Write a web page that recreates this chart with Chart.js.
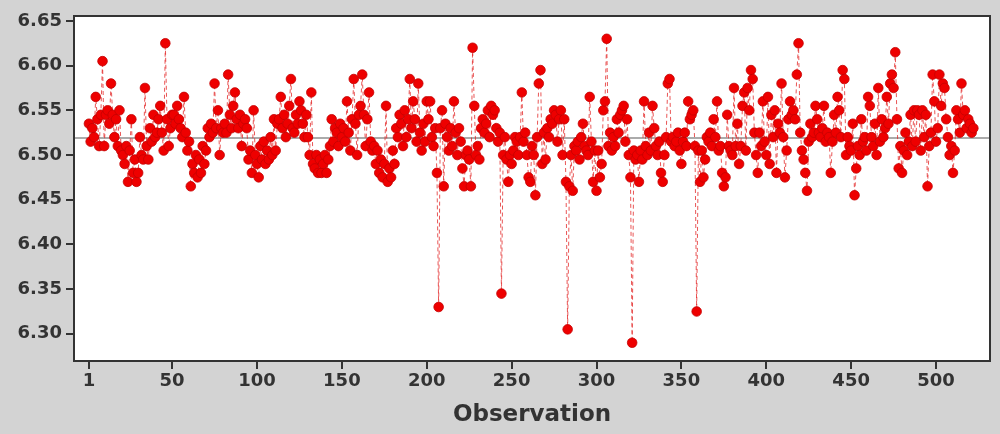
<!DOCTYPE html>
<html>
<head>
<meta charset="utf-8">
<script src="https://cdn.jsdelivr.net/npm/chart.js@4.4.1/dist/chart.umd.min.js"></script>
<style>
  html, body { margin: 0; padding: 0; background: #d3d3d3; }
  #wrap { width: 1000px; height: 434px; position: relative; }
</style>
</head>
<body>
<div id="wrap"><canvas id="c"></canvas></div>
<script>
const values = [
  6.535, 6.515, 6.530, 6.520, 6.565, 6.540, 6.510, 6.545, 6.605, 6.510,
  6.545, 6.550, 6.535, 6.580, 6.545, 6.520, 6.540, 6.510, 6.550, 6.505,
  6.500, 6.490, 6.510, 6.470, 6.505, 6.540, 6.480, 6.495, 6.470, 6.480,
  6.520, 6.500, 6.495, 6.575, 6.510, 6.495, 6.530, 6.515, 6.545, 6.520,
  6.525, 6.540, 6.555, 6.525, 6.505, 6.625, 6.540, 6.510, 6.530, 6.545,
  6.545, 6.535, 6.555, 6.540, 6.530, 6.520, 6.565, 6.525, 6.505, 6.515,
  6.465, 6.490, 6.480, 6.500, 6.475, 6.495, 6.480, 6.510, 6.490, 6.505,
  6.530, 6.520, 6.535, 6.525, 6.580, 6.530, 6.550, 6.500, 6.530, 6.525,
  6.535, 6.525, 6.590, 6.545, 6.530, 6.555, 6.570, 6.540, 6.530, 6.545,
  6.510, 6.535, 6.540, 6.530, 6.495, 6.505, 6.480, 6.550, 6.500, 6.490,
  6.475, 6.510, 6.495, 6.515, 6.490, 6.505, 6.495, 6.520, 6.500, 6.540,
  6.505, 6.535, 6.540, 6.565, 6.530, 6.545, 6.520, 6.535, 6.555, 6.585,
  6.530, 6.525, 6.545, 6.535, 6.560, 6.550, 6.535, 6.520, 6.545, 6.520,
  6.500, 6.570, 6.490, 6.485, 6.500, 6.480, 6.495, 6.480, 6.490, 6.500,
  6.480, 6.495, 6.510, 6.540, 6.515, 6.530, 6.525, 6.510, 6.535, 6.520,
  6.530, 6.515, 6.560, 6.525, 6.505, 6.540, 6.585, 6.535, 6.500, 6.545,
  6.555, 6.590, 6.545, 6.510, 6.540, 6.570, 6.515, 6.505, 6.510, 6.490,
  6.505, 6.480, 6.495, 6.475, 6.490, 6.555, 6.470, 6.485, 6.475, 6.505,
  6.490, 6.530, 6.520, 6.545, 6.535, 6.510, 6.550, 6.520, 6.540, 6.585,
  6.530, 6.560, 6.540, 6.515, 6.580, 6.525, 6.505, 6.535, 6.515, 6.560,
  6.540, 6.560, 6.520, 6.510, 6.530, 6.480, 6.330, 6.530, 6.550, 6.465,
  6.535, 6.520, 6.505, 6.530, 6.510, 6.560, 6.525, 6.500, 6.530, 6.515,
  6.485, 6.465, 6.500, 6.505, 6.495, 6.465, 6.620, 6.555, 6.500, 6.510,
  6.495, 6.530, 6.540, 6.525, 6.535, 6.550, 6.520, 6.555, 6.545, 6.550,
  6.530, 6.515, 6.525, 6.345, 6.500, 6.520, 6.495, 6.470, 6.500, 6.490,
  6.505, 6.520, 6.515, 6.500, 6.520, 6.570, 6.515, 6.525, 6.500, 6.475,
  6.470, 6.510, 6.500, 6.455, 6.520, 6.580, 6.595, 6.490, 6.525, 6.495,
  6.530, 6.520, 6.540, 6.535, 6.550, 6.545, 6.515, 6.540, 6.550, 6.500,
  6.540, 6.470, 6.305, 6.465, 6.500, 6.460, 6.510, 6.505, 6.515, 6.495,
  6.520, 6.535, 6.510, 6.505, 6.500, 6.565, 6.515, 6.470, 6.505, 6.460,
  6.505, 6.475, 6.490, 6.550, 6.560, 6.630, 6.510, 6.525, 6.505, 6.520,
  6.510, 6.540, 6.525, 6.545, 6.550, 6.555, 6.515, 6.540, 6.500, 6.475,
  6.290, 6.505, 6.495, 6.500, 6.470, 6.505, 6.495, 6.560, 6.510, 6.500,
  6.525, 6.505, 6.555, 6.530, 6.510, 6.500, 6.515, 6.480, 6.470, 6.500,
  6.520, 6.580, 6.585, 6.515, 6.520, 6.510, 6.515, 6.525, 6.505, 6.490,
  6.515, 6.525, 6.510, 6.560, 6.540, 6.545, 6.550, 6.510, 6.325, 6.505,
  6.470, 6.505, 6.475, 6.495, 6.520, 6.515, 6.525, 6.510, 6.540, 6.520,
  6.560, 6.505, 6.510, 6.480, 6.465, 6.475, 6.545, 6.510, 6.505, 6.500,
  6.575, 6.510, 6.535, 6.490, 6.510, 6.555, 6.570, 6.505, 6.575, 6.550,
  6.595, 6.585, 6.525, 6.500, 6.480, 6.525, 6.510, 6.560, 6.515, 6.500,
  6.565, 6.490, 6.545, 6.520, 6.550, 6.480, 6.535, 6.525, 6.580, 6.520,
  6.475, 6.505, 6.540, 6.560, 6.545, 6.550, 6.540, 6.590, 6.625, 6.525,
  6.505, 6.495, 6.480, 6.460, 6.515, 6.535, 6.520, 6.525, 6.555, 6.540,
  6.525, 6.520, 6.530, 6.555, 6.515, 6.525, 6.520, 6.480, 6.515, 6.545,
  6.525, 6.565, 6.550, 6.520, 6.595, 6.585, 6.500, 6.520, 6.510, 6.505,
  6.535, 6.455, 6.485, 6.510, 6.500, 6.540, 6.515, 6.520, 6.505, 6.565,
  6.555, 6.520, 6.510, 6.535, 6.500, 6.575, 6.515, 6.540, 6.520, 6.530,
  6.565, 6.535, 6.580, 6.590, 6.575, 6.615, 6.540, 6.485, 6.510, 6.480,
  6.505, 6.525, 6.500, 6.515, 6.545, 6.510, 6.550, 6.515, 6.550, 6.545,
  6.505, 6.550, 6.520, 6.545, 6.465, 6.510, 6.525, 6.590, 6.560, 6.515,
  6.530, 6.590, 6.555, 6.580, 6.575, 6.540, 6.520, 6.500, 6.510, 6.480,
  6.505, 6.550, 6.540, 6.525, 6.580, 6.545, 6.550, 6.530, 6.540, 6.535,
  6.525, 6.530
];
// Observation numbers (categories 1..N)
const observations = values.map((v, i) => i + 1);
// Centre (mean) line value
const centerValue = 6.519;
// Axis tick labels
const xTickValues = [1, 50, 100, 150, 200, 250, 300, 350, 400, 450, 500];
const yTickValues = [6.30, 6.35, 6.40, 6.45, 6.50, 6.55, 6.60, 6.65];

const X_MIN = -7.8, X_MAX = 531.8;
const Y_MIN = 6.2696, Y_MAX = 6.6555;

const points = observations.map((o, i) => ({ x: o, y: values[i] }));

const plotFrame = {
  id: 'plotFrame',
  beforeDraw(chart) {
    const { ctx, chartArea: a } = chart;
    ctx.save();
    ctx.fillStyle = '#ffffff';
    ctx.fillRect(a.left, a.top, a.right - a.left, a.bottom - a.top);
    ctx.restore();
  },
  afterDraw(chart) {
    const { ctx, chartArea: a } = chart;
    ctx.save();
    ctx.strokeStyle = '#333333';
    ctx.lineWidth = 2;
    ctx.strokeRect(a.left, a.top, a.right - a.left, a.bottom - a.top);
    ctx.restore();
  }
};

const tickFont = { family: 'DejaVu Sans', size: 18, weight: 'bold' };

new Chart(document.getElementById('c'), {
  type: 'line',
  data: {
    datasets: [
      {
        data: points,
        borderColor: 'rgba(225,30,30,0.75)',
        borderWidth: 1,
        borderDash: [4, 3],
        pointRadius: 4.8,
        pointBackgroundColor: '#ee0000',
        pointBorderColor: '#c40000',
        pointBorderWidth: 0.8,
        tension: 0,
        order: 1
      },
      {
        data: [{ x: X_MIN, y: centerValue }, { x: X_MAX, y: centerValue }],
        borderColor: '#8f8f8f',
        borderWidth: 1.5,
        pointRadius: 0,
        order: 2
      }
    ]
  },
  options: {
    responsive: true,
    maintainAspectRatio: false,
    animation: false,
    events: [],
    layout: { padding: { top: 16, right: 10, left: 0, bottom: 0 } },
    plugins: { legend: { display: false }, tooltip: { enabled: false } },
    scales: {
      x: {
        type: 'linear',
        min: X_MIN,
        max: X_MAX,
        afterBuildTicks: s => { s.ticks = xTickValues.map(v => ({ value: v })); },
        afterFit: s => { s.height = 73; },
        ticks: {
          font: tickFont,
          color: '#333333',
          padding: 2,
          maxRotation: 0,
          autoSkip: false,
          callback: v => String(v)
        },
        grid: { drawOnChartArea: false, drawTicks: true, tickLength: 8, color: '#333333', lineWidth: 2 },
        border: { display: false },
        title: {
          display: true,
          text: 'Observation',
          font: { family: 'DejaVu Sans', size: 23, weight: 'bold' },
          color: '#333333',
          padding: { top: 0, bottom: 5 }
        }
      },
      y: {
        type: 'linear',
        min: Y_MIN,
        max: Y_MAX,
        afterBuildTicks: s => { s.ticks = yTickValues.map(v => ({ value: v })); },
        afterFit: s => { s.width = 74; },
        ticks: {
          font: tickFont,
          color: '#333333',
          padding: 4,
          autoSkip: false,
          callback: v => Number(v).toFixed(2)
        },
        grid: { drawOnChartArea: false, drawTicks: true, tickLength: 8, color: '#333333', lineWidth: 2 },
        border: { display: false }
      }
    }
  },
  plugins: [plotFrame]
});
</script>
</body>
</html>
